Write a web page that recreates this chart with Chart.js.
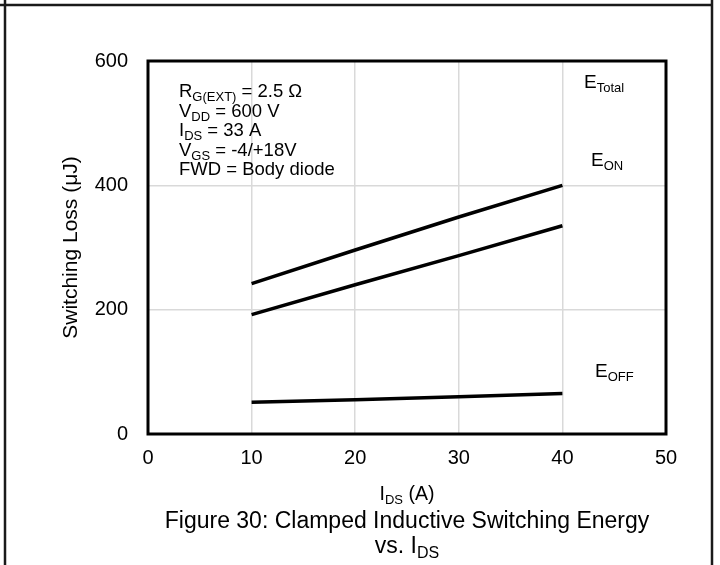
<!DOCTYPE html>
<html>
<head>
<meta charset="utf-8">
<script src="https://cdn.jsdelivr.net/npm/chart.js@4.4.1/dist/chart.umd.min.js"></script>
<style>
  html, body { margin: 0; padding: 0; background: #fff; }
  #wrap { width: 720px; height: 565px; }
</style>
</head>
<body>
<div id="wrap"><canvas id="lossChart" width="720" height="565"></canvas></div>
<script>
// drain current (A) and switching energies (uJ)
const currents = [10, 20, 30, 40];
const eTotal = [242, 296, 349, 400];
const eOn = [192, 240, 287, 335];
const eOff = [51, 55, 60, 65];
const xTicks = [0, 10, 20, 30, 40, 50];
const yTicks = [0, 200, 400, 600];

const FONT = '"Liberation Sans", Arial, sans-serif';

// draws text made of normal and subscript pieces
function richText(ctx, parts, x, y, size, align) {
  const subSize = Math.round(size * 0.68);
  let total = 0;
  parts.forEach(p => {
    ctx.font = (p.sub ? subSize : size) + 'px ' + FONT;
    total += ctx.measureText(p.t).width;
  });
  let cx = x;
  if (align === 'center') cx = x - total / 2;
  ctx.textAlign = 'left';
  ctx.textBaseline = 'alphabetic';
  ctx.fillStyle = '#000';
  parts.forEach(p => {
    ctx.font = (p.sub ? subSize : size) + 'px ' + FONT;
    ctx.fillText(p.t, cx, p.sub ? y + size * 0.22 : y);
    cx += ctx.measureText(p.t).width;
  });
}

const toPoints = vals => currents.map((x, i) => ({ x: x, y: vals[i] }));

const decorations = {
  id: 'decorations',
  afterDraw(chart) {
    const ctx = chart.ctx;
    const a = chart.chartArea;
    ctx.save();

    // page frame
    ctx.strokeStyle = '#1a1a1a';
    ctx.lineWidth = 2.5;
    ctx.beginPath();
    ctx.moveTo(0, 5); ctx.lineTo(713, 5);
    ctx.moveTo(5, 0); ctx.lineTo(5, 565);
    ctx.moveTo(712, 0); ctx.lineTo(712, 565);
    ctx.stroke();

    // plot box
    ctx.strokeStyle = '#000';
    ctx.lineWidth = 3;
    ctx.strokeRect(a.left, a.top, a.right - a.left, a.bottom - a.top);

    // conditions
    const cond = [
      [{ t: 'R' }, { t: 'G(EXT)', sub: true }, { t: ' = 2.5 \u03A9' }],
      [{ t: 'V' }, { t: 'DD', sub: true }, { t: ' = 600 V' }],
      [{ t: 'I' }, { t: 'DS', sub: true }, { t: ' = 33 A' }],
      [{ t: 'V' }, { t: 'GS', sub: true }, { t: ' = -4/+18V' }],
      [{ t: 'FWD = Body diode' }]
    ];
    cond.forEach((line, i) => richText(ctx, line, 179, 97 + i * 19.6, 18.5));

    // curve names
    richText(ctx, [{ t: 'E' }, { t: 'Total', sub: true }], 584, 88, 19);
    richText(ctx, [{ t: 'E' }, { t: 'ON', sub: true }], 591, 166, 19);
    richText(ctx, [{ t: 'E' }, { t: 'OFF', sub: true }], 595, 377, 19);

    // axis titles
    const xMid = (a.left + a.right) / 2;
    richText(ctx, [{ t: 'I' }, { t: 'DS', sub: true }, { t: ' (A)' }], xMid, 500, 19.5, 'center');
    ctx.save();
    ctx.translate(77, (a.top + a.bottom) / 2);
    ctx.rotate(-Math.PI / 2);
    richText(ctx, [{ t: 'Switching Loss (\u03BCJ)' }], 0, 0, 21, 'center');
    ctx.restore();

    // caption
    richText(ctx, [{ t: 'Figure 30: Clamped Inductive Switching Energy' }], xMid, 528, 23, 'center');
    richText(ctx, [{ t: 'vs. I' }, { t: 'DS', sub: true }], xMid, 553, 23, 'center');

    ctx.restore();
  }
};

const lineStyle = {
  borderColor: '#000',
  borderWidth: 3.5,
  pointRadius: 0,
  tension: 0,
  fill: false
};

new Chart(document.getElementById('lossChart'), {
  type: 'line',
  data: {
    datasets: [
      Object.assign({ label: 'E_Total', data: toPoints(eTotal) }, lineStyle),
      Object.assign({ label: 'E_ON', data: toPoints(eOn) }, lineStyle),
      Object.assign({ label: 'E_OFF', data: toPoints(eOff) }, lineStyle)
    ]
  },
  options: {
    responsive: false,
    animation: false,
    layout: { padding: { top: 61, right: 54, left: 0, bottom: 0 } },
    plugins: { legend: { display: false }, tooltip: { enabled: false } },
    scales: {
      x: {
        type: 'linear',
        min: xTicks[0],
        max: xTicks[xTicks.length - 1],
        afterBuildTicks: s => { s.ticks = xTicks.map(v => ({ value: v })); },
        afterFit: s => { s.height = 131; },
        ticks: { color: '#000', font: { family: FONT, size: 20 }, padding: 12, maxRotation: 0 },
        grid: { color: '#d9d9d9', lineWidth: 1.5, drawTicks: false },
        border: { display: false }
      },
      y: {
        type: 'linear',
        min: yTicks[0],
        max: yTicks[yTicks.length - 1],
        afterBuildTicks: s => { s.ticks = yTicks.map(v => ({ value: v })); },
        afterFit: s => { s.width = 148; },
        ticks: { color: '#000', font: { family: FONT, size: 20 }, padding: 20 },
        grid: { color: '#d9d9d9', lineWidth: 1.5, drawTicks: false },
        border: { display: false }
      }
    }
  },
  plugins: [decorations]
});
</script>
</body>
</html>
